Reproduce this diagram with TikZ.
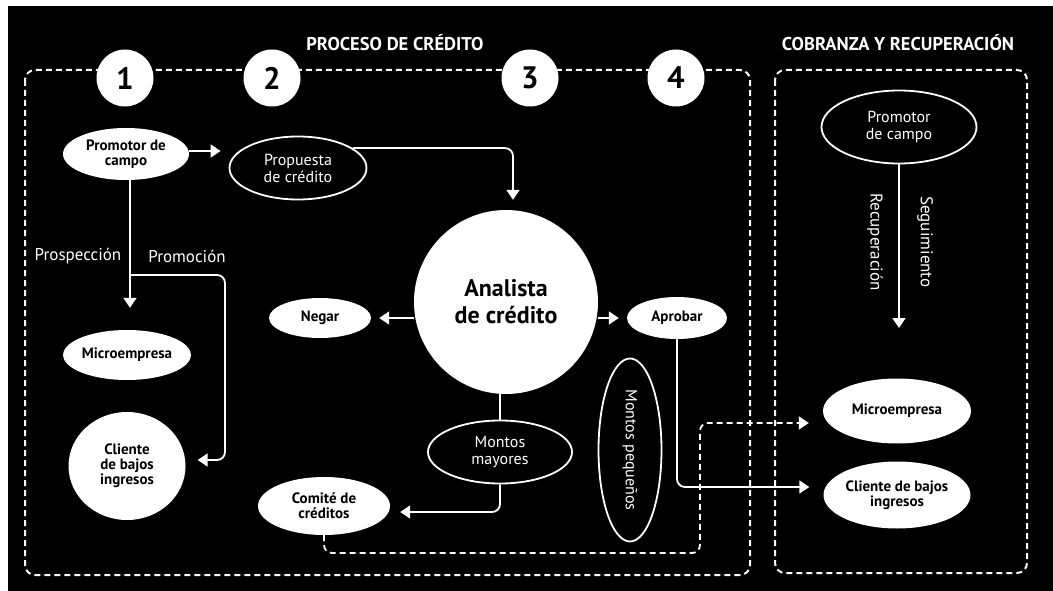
\documentclass[tikz,border=0pt]{standalone}
\usepackage{fontspec}
\setmainfont{PT Sans}
\usetikzlibrary{arrows.meta,shapes.geometric}
\tikzset{
  every node/.style={font=\fontsize{15}{16}\selectfont, text=white, align=center, inner sep=0pt},
  heading/.style={font=\bfseries\fontsize{18.5}{20}\selectfont, text=white},
  stepnum/.style={circle, fill=white, minimum size=57pt, text=black, font=\bfseries\fontsize{31}{31}\selectfont},
  solidell/.style={ellipse, fill=white, text=black, font=\bfseries\fontsize{15}{15}\selectfont},
  openell/.style={ellipse, draw=white, line width=1.8pt, fill=black, text=white, font=\fontsize{16}{17}\selectfont},
  lbl/.style={text=white, font=\fontsize{17}{18}\selectfont},
  conn/.style={draw=white, line width=1.8pt, rounded corners=8pt},
  arr/.style={conn, -{Triangle[width=13pt,length=10pt]}},
  darr/.style={arr, dash pattern=on 6pt off 4pt},
  frame/.style={draw=white, line width=2pt, dash pattern=on 6pt off 4pt, rounded corners=10pt},
}
\begin{document}
\begin{tikzpicture}[x=1pt,y=-1pt]
\useasboundingbox (0,0) rectangle (1053,591);
\fill[white] (0,0) rectangle (1053,591);
\fill[black] (8,6) rectangle (1053,591);

% section frames
\draw[frame] (25,70) rectangle (750,575);
\draw[frame] (775,70) rectangle (1027,573);

% headings
\node[heading] (h1) at (395,43) {PROCESO DE CRÉDITO};
\node[heading] (h2) at (898,43) {COBRANZA Y RECUPERACIÓN};

% step numbers
\node[stepnum] (s1) at (125,78) {1};
\node[stepnum] (s2) at (272,78) {2};
\node[stepnum] (s3) at (530,78) {3};
\node[stepnum] (s4) at (676,78) {4};

% credit process
\node[solidell, minimum width=126pt, minimum height=52pt] (pc1) at (126,154) {Promotor de\\campo};
\node[openell, minimum width=137pt, minimum height=63pt] (prop) at (298,168) {Propuesta\\de crédito};
\node[circle, fill=white, minimum size=184pt, text=black, font=\bfseries\fontsize{24}{27}\selectfont] (ana) at (506,302) {Analista\\de crédito};
\node[solidell, minimum width=102pt, minimum height=40pt] (neg) at (320,318) {Negar};
\node[solidell, minimum width=100pt, minimum height=42pt] (apr) at (677,318) {Aprobar};
\node[solidell, minimum width=127pt, minimum height=50pt] (mic1) at (127,355) {Microempresa};
\node[solidell, minimum width=117pt, minimum height=108pt] (cli1) at (127,466) {Cliente\\de bajos\\ingresos};
\node[openell, minimum width=144pt, minimum height=63pt] (mm) at (500,452) {Montos\\mayores};
\node[solidell, minimum width=132pt, minimum height=58pt] (com) at (324,506) {Comité de\\créditos};
\node[openell, minimum width=63pt, minimum height=183pt] (mp) at (630,450) {};
\node[rotate=-90, font=\fontsize{16}{17}\selectfont] (mpt) at (mp.center) {Montos pequeños};

% collection and recovery
\node[openell, minimum width=155pt, minimum height=73pt] (pc2) at (899,127) {Promotor\\de campo};
\node[solidell, minimum width=148pt, minimum height=65pt] (mic2) at (897,411) {Microempresa};
\node[solidell, minimum width=147pt, minimum height=67pt] (cli2) at (897,495) {Cliente de bajos\\ingresos};

% branch labels
\node[lbl] (lpros) at (78,256) {Prospección};
\node[lbl] (lprom) at (187,256) {Promoción};
\node[lbl, rotate=-90] (lrec) at (875,242) {Recuperación};
\node[lbl, rotate=-90] (lseg) at (925,242) {Seguimiento};

% helper points
\coordinate (split) at (130,275);
\coordinate (pcdown) at (130,180);
\coordinate (promR) at (225,275);
\coordinate (anaIn) at (513,150);
\coordinate (dj) at (700,553);
\coordinate (recEnd) at (899,328);

% connectors
\draw[arr, shorten >=8pt] ([yshift=3pt]pc1.east) -- ([yshift=3pt]pc1.east -| prop.west);
\draw[arr, shorten >=10pt] (prop.20) -| (ana.north -| anaIn);
\draw[arr, shorten >=22pt] (pcdown) -- (pcdown |- mic1.north);
\draw[arr, shorten >=12pt] (split) -| ([yshift=6pt]promR |- cli1.east) -- ([yshift=6pt]cli1.east);
\draw[arr, shorten >=8pt] (ana.west |- neg.east) -- (neg.east);
\draw[arr, shorten >=8pt] (ana.east |- apr.west) -- (apr.west);
\draw[conn] (ana.south -| mm.north) -- (mm.north);
\draw[arr, shorten >=10pt] (mm.south) |- ([yshift=-6pt]com.east);
\draw[darr, shorten >=14pt] (com.south) |- (dj) |- ([yshift=-12pt]mic2.west);
\draw[arr, shorten >=14pt] (apr.south) |- ([yshift=8pt]cli2.west);
\draw[arr] (pc2.south) -- (recEnd);
\end{tikzpicture}
\end{document}
